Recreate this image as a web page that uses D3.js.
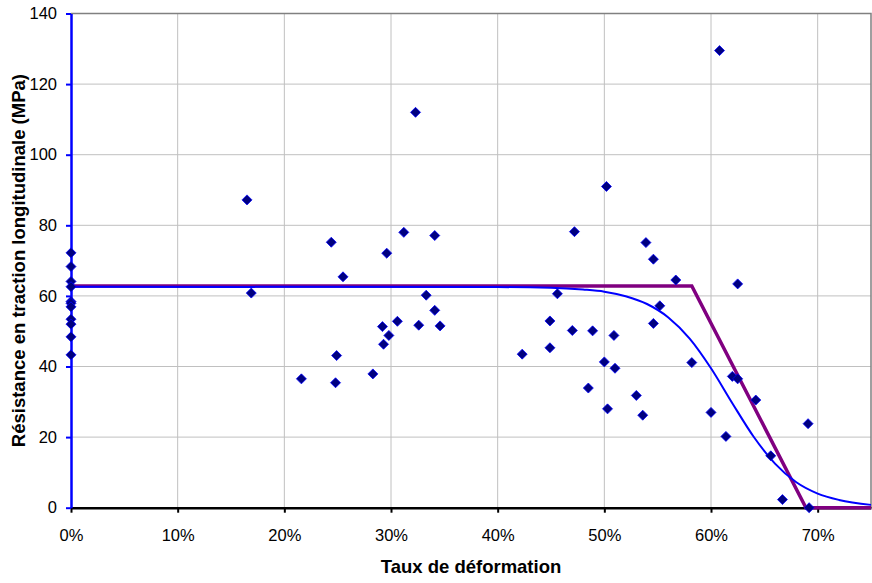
<!DOCTYPE html>
<html>
<head>
<meta charset="utf-8">
<script src="https://cdn.jsdelivr.net/npm/d3@7"></script>
<style>
  body { margin: 0; background: #fff; }
  svg text { font-family: Arial, "Liberation Sans", sans-serif; }
</style>
</head>
<body>
<div id="chart"></div>
<script>
// measured points: strain (fraction) and longitudinal tensile strength (MPa)
const strain = [
  0, 0, 0, 0, 0, 0, 0, 0, 0, 0, 0,
  0.165, 0.169, 0.216, 0.244, 0.248, 0.249, 0.255, 0.283, 0.292, 0.293,
  0.296, 0.298, 0.306, 0.312, 0.323, 0.326, 0.333, 0.341, 0.341, 0.346,
  0.423, 0.449, 0.449, 0.456, 0.470, 0.472, 0.485, 0.489, 0.500, 0.502,
  0.503, 0.509, 0.510, 0.530, 0.536, 0.539, 0.546, 0.546, 0.552, 0.567,
  0.582, 0.600, 0.608, 0.614, 0.620, 0.625, 0.625, 0.642, 0.656, 0.667,
  0.691, 0.692
];
const strength = [
  72.2, 68.3, 64.1, 62.6, 58.4, 57.9, 56.9, 53.4, 52.0, 48.4, 43.3,
  87.2, 60.8, 36.5, 75.2, 35.4, 43.1, 65.4, 37.9, 51.3, 46.3,
  72.1, 48.8, 52.8, 78.0, 112.0, 51.7, 60.2, 77.1, 55.9, 51.5,
  43.5, 52.9, 45.3, 60.6, 50.2, 78.2, 33.9, 50.1, 41.3, 91.0,
  28.0, 48.8, 39.5, 31.8, 26.2, 75.1, 70.4, 52.2, 57.2, 64.5,
  41.1, 27.0, 129.5, 20.2, 37.2, 36.5, 63.4, 30.5, 14.7, 2.3,
  23.8, 0
];

// fitted curve (blue)
const fitX = [0, 0.40, 0.45, 0.48, 0.50, 0.52, 0.54, 0.56, 0.58, 0.60, 0.62, 0.64, 0.66, 0.68, 0.70, 0.72, 0.75];
const fitY = [62.6, 62.5, 62.3, 61.8, 61.2, 59.9, 57.7, 53.9, 47.9, 39.5, 29.6, 20.1, 12.5, 7.2, 4.0, 2.2, 0.8];

// threshold model (purple)
const modelX = [0, 0.582, 0.689, 0.75];
const modelY = [62.8, 62.8, 0, 0];

const xTicks = [0, 0.1, 0.2, 0.3, 0.4, 0.5, 0.6, 0.7];
const yTicks = [0, 20, 40, 60, 80, 100, 120, 140];

const W = 872, H = 583;
const margin = { top: 13.5, right: 1, bottom: 75.3, left: 71 };

const svg = d3.select("#chart").append("svg")
  .attr("width", W)
  .attr("height", H);

const x = d3.scaleLinear()
  .domain([0, 0.75])
  .range([margin.left, W - margin.right]);

const y = d3.scaleLinear()
  .domain([0, 140])
  .range([H - margin.bottom, margin.top]);

// grid
svg.append("g")
  .selectAll("line")
  .data(yTicks.slice(1, -1))
  .enter().append("line")
  .attr("x1", x(0)).attr("x2", x(0.75))
  .attr("y1", d => y(d)).attr("y2", d => y(d))
  .attr("stroke", "#c0c0c0").attr("stroke-width", 1);

svg.append("g")
  .selectAll("line")
  .data(xTicks.slice(1))
  .enter().append("line")
  .attr("x1", d => x(d)).attr("x2", d => x(d))
  .attr("y1", y(0)).attr("y2", y(140))
  .attr("stroke", "#c0c0c0").attr("stroke-width", 1);

// plot area border (top / right)
svg.append("path")
  .attr("d", `M${x(0)},${y(140)}H${x(0.75)}V${y(0)}`)
  .attr("fill", "none")
  .attr("stroke", "#808080")
  .attr("stroke-width", 1.5);

// x axis
const xAxis = svg.append("g")
  .attr("transform", `translate(0,${y(0)})`)
  .call(d3.axisBottom(x).tickValues(xTicks).tickFormat(d3.format(".0%")).tickSize(5).tickSizeOuter(0));
xAxis.select(".domain").attr("stroke", "#000").attr("stroke-width", 2.5);
xAxis.selectAll(".tick line").attr("stroke", "#000").attr("stroke-width", 2);
xAxis.selectAll(".tick text")
  .attr("font-size", 16.5)
  .attr("fill", "#000")
  .attr("font-family", "Arial, 'Liberation Sans', sans-serif")
  .attr("y", 33.5)
  .attr("dy", 0);

// y axis (blue)
const yAxis = svg.append("g")
  .attr("transform", `translate(${x(0)},0)`)
  .call(d3.axisLeft(y).tickValues(yTicks).tickSize(5).tickSizeOuter(0));
yAxis.select(".domain").attr("stroke", "#0000ff").attr("stroke-width", 2.5);
yAxis.selectAll(".tick line").attr("stroke", "#0000ff").attr("stroke-width", 2);
yAxis.selectAll(".tick text")
  .attr("font-size", 16.5)
  .attr("fill", "#000")
  .attr("font-family", "Arial, 'Liberation Sans', sans-serif")
  .attr("x", -14);

// model lines
const line = d3.line()
  .x(d => x(d[0]))
  .y(d => y(d[1]));

svg.append("path")
  .datum(modelX.map((v, i) => [v, modelY[i]]))
  .attr("d", line)
  .attr("fill", "none")
  .attr("stroke", "#800080")
  .attr("stroke-width", 3.5);

svg.append("path")
  .datum(fitX.map((v, i) => [v, fitY[i]]))
  .attr("d", line.curve(d3.curveMonotoneX))
  .attr("fill", "none")
  .attr("stroke", "#0000ff")
  .attr("stroke-width", 2);

// points
svg.append("g")
  .selectAll("path")
  .data(strain.map((s, i) => ({ s, r: strength[i] })))
  .enter().append("path")
  .attr("transform", d => `translate(${x(d.s)},${y(d.r)})`)
  .attr("d", "M0,-5L5,0L0,5L-5,0Z")
  .attr("fill", "#000080")
  .attr("stroke", "#0000ff")
  .attr("stroke-width", 0.8);

// axis titles
svg.append("text")
  .attr("x", (x(0) + x(0.75)) / 2)
  .attr("y", 573)
  .attr("text-anchor", "middle")
  .attr("font-size", 18.5)
  .attr("font-weight", "bold")
  .text("Taux de déformation");

svg.append("text")
  .attr("transform", `translate(24.5,${(y(0) + y(140)) / 2}) rotate(-90)`)
  .attr("text-anchor", "middle")
  .attr("font-size", 18.5)
  .attr("font-weight", "bold")
  .text("Résistance en traction longitudinale (MPa)");
</script>
</body>
</html>
